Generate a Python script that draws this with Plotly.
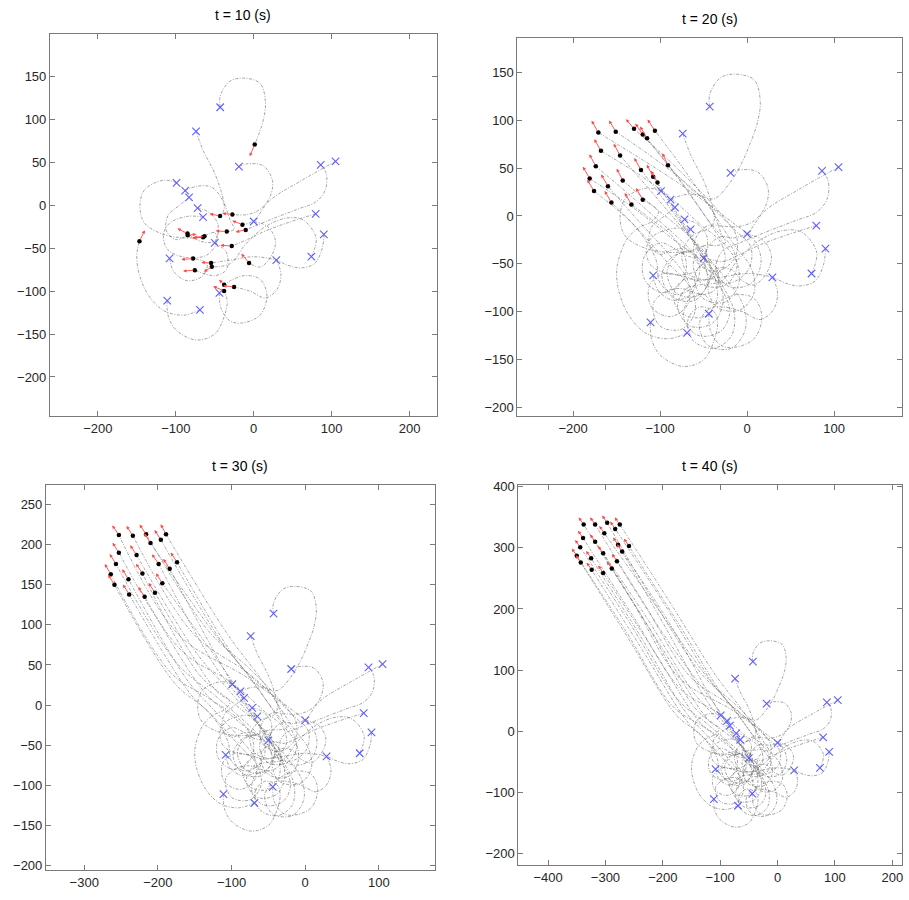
import plotly.graph_objects as go

# ---------------- data ----------------
TIMES = [10, 20, 30, 40]

START_X = [-43, -74, -19, 86, 105, -99, -88, -83, -72, -65, 0, 79.5, 90, -50, 74, 29, -108, -44, -111, -69]
START_Y = [114, 86, 45, 47, 51, 26, 17, 9, -3.5, -14, -19, -10, -34, -44, -60, -64, -62, -102, -111, -122]

# trajectory waypoints from the start up to (and including) the t = 10 s position
PATH_TO_10 = [
    [(-43, 114), (-43, 127), (-31, 144), (-14, 148), (8, 142), (15, 121), (12, 98), (1.3, 70.7)],
    [(-74, 86), (-65, 64), (-50, 37), (-40, 10), (-38, -5), (-43.2, -12.7)],
    [(-19, 45), (-9, 48), (12, 46), (24, 29), (21, 10), (8, -5), (-9, -11), (-27.4, -10.8)],
    [(86, 47), (93, 37), (92, 18), (80, 4), (55, -5), (21, -17), (-10.3, -28.8)],
    [(105, 51), (60, 28), (20, 5), (0, -18), (-14.5, -22.7)],
    [(-99, 26), (-116, 29), (-140, 18), (-146, -1.5), (-140, -21), (-116, -34), (-90, -38), (-65, -37.3)],
    [(-88, 17), (-73, 22), (-54, 21), (-40, 6), (-30, -18), (-25, -28), (-34.6, -30.7)],
    [(-83, 9), (-95, 0), (-110, -12), (-112, -30), (-100, -40), (-84.6, -34.9)],
    [(-72, -3.5), (-58, -8), (-46, -22), (-50, -42), (-68, -42), (-85, -33)],
    [(-65, -14), (-85, -13), (-108, -21), (-116, -35), (-110, -52), (-86, -61), (-60, -58), (-47, -42), (-50, -32), (-63.2, -36.1)],
    [(0, -19), (18, -25), (28, -42), (22, -60), (8, -72), (-6, -67.2)],
    [(79.5, -10), (45, -20), (15, -30), (-8, -40), (-28.2, -47.6)],
    [(90, -34), (88, -50), (78, -68), (60, -73), (44, -70), (29, -64), (0, -60), (-30, -64), (-54.7, -67.2)],
    [(-50, -44), (-35, -55), (-35, -75), (-50, -82), (-75.6, -75.7)],
    [(74, -60), (80, -38), (63, -17), (42, -15), (15, -25), (-10, -45), (-30, -68), (-53.8, -71.8)],
    [(29, -64), (35, -80), (30, -98), (15, -108), (-5, -100), (-25.2, -95.2)],
    [(-108, -62), (-102, -78), (-85, -88), (-65, -82), (-60, -68), (-77.8, -62.2)],
    [(-44, -102), (-42, -120), (-30, -135), (-14, -137), (8, -128), (17, -105), (8, -86), (-12, -82), (-30, -88), (-38, -92.5)],
    [(-111, -111), (-110, -128), (-100, -145), (-74, -157), (-50, -150), (-38, -130), (-34, -112), (-38, -99.8)],
    [(-69, -122), (-90, -128), (-115, -123), (-135, -105), (-147, -80), (-150, -58), (-146.6, -41.9)],
]

# waypoints between the t = 10 s and t = 20 s positions
PATH_10_TO_20 = [
    [(-8, 52), (-22, 32), (-38, 18), (-55, 22), (-70, 33)],
    [(-62, -20), (-75, -38), (-68, -60), (-45, -66), (-26, -50), (-30, -28), (-55, -8), (-100, 28)],
    [(-45, -10), (-60, -25), (-58, -48), (-36, -58), (-15, -45), (-12, -22), (-30, 2), (-75, 45)],
    [(-28, -36), (-36, -56), (-20, -74), (5, -70), (16, -48), (8, -25), (-15, -8), (-80, 35)],
    [(-32, -22), (-48, -38), (-44, -62), (-20, -70), (2, -55), (4, -32), (-15, -14), (-75, 38)],
    [(-85, -42), (-98, -62), (-85, -85), (-60, -88), (-45, -68), (-55, -45), (-80, -28), (-130, 8)],
    [(-52, -32), (-62, -52), (-50, -72), (-25, -72), (-12, -55), (-18, -32), (-38, -12), (-80, 40)],
    [(-70, -35), (-55, -50), (-60, -72), (-82, -82), (-100, -70), (-105, -45), (-125, -15)],
    [(-100, -28), (-118, -42), (-118, -66), (-98, -80), (-76, -70), (-70, -48), (-85, -22), (-108, -5)],
    [(-80, -40), (-92, -58), (-82, -80), (-58, -84), (-42, -65), (-46, -42), (-68, -20), (-105, 8)],
    [(-18, -56), (-35, -55), (-45, -72), (-35, -95), (-8, -98), (8, -80), (5, -55), (-15, -30), (-62, 35)],
    [(-46, -46), (-60, -62), (-52, -85), (-26, -90), (-10, -72), (-12, -48), (-30, -25), (-75, 35)],
    [(-72, -66), (-85, -82), (-75, -102), (-50, -105), (-35, -88), (-38, -62), (-55, -38), (-80, 0)],
    [(-92, -78), (-108, -92), (-100, -115), (-75, -118), (-60, -100), (-65, -75), (-90, -50), (-135, -5)],
    [(-70, -76), (-80, -95), (-65, -115), (-40, -112), (-28, -92), (-32, -68), (-50, -42), (-75, -5)],
    [(-42, -96), (-55, -112), (-45, -135), (-18, -138), (-2, -118), (-5, -92), (-25, -65), (-60, -28), (-105, 20)],
    [(-95, -60), (-112, -72), (-110, -95), (-88, -105), (-68, -92), (-68, -68), (-88, -42), (-125, -5)],
    [(-50, -82), (-68, -88), (-72, -110), (-55, -125), (-30, -120), (-20, -100), (-30, -75), (-60, -40), (-120, 10)],
    [(-55, -95), (-68, -108), (-62, -130), (-38, -138), (-18, -125), (-15, -100), (-30, -70), (-55, -35), (-90, 10)],
    [(-138, -24), (-124, -12), (-110, -6), (-102, 4)],
]

# positions at t = 20, 30, 40 s
POS20_X = [-91, -168, -130, -171, -151, -181, -115, -156, -133, -143, -106, -120, -108, -176, -103, -146, -160, -174, -122, -120]
POS20_Y = [53, 68, 91, 87, 88, 39, 81, 14, 12, 37, 89, 85, 41, 26, 35, 63, 31, 52, 48, 17]
POS30_X = [-174, -253, -216, -253, -234, -264, -196, -239, -218, -221, -189, -210, -184, -259, -194, -229, -240, -257, -199, -204]
POS30_Y = [178, 190, 213, 212, 211, 163, 206, 138, 135, 164, 213, 202, 170, 150, 152, 187, 157, 176, 176, 140]
POS40_X = [-259, -339, -297, -338, -318, -350, -283, -324, -304, -304, -275, -302, -271, -343, -280, -318, -325, -344, -278, -289]
POS40_Y = [303, 316, 341, 338, 338, 287, 331, 264, 259, 291, 338, 324, 294, 276, 278, 310, 283, 301, 305, 266]

# velocity (arrow) vectors at t = 10, 20, 30, 40 s
VEL10_X = [-6.4, -13.2, -12.8, -12.8, -12.8, -14, -14.1, 11, -12.8, -14, -9.8, -14.5, -12.4, -15, -10, -14, -15, -6.4, -14, 6.8]
VEL10_Y = [-13.8, 2.7, 1.2, -2.3, 4.6, -1, 0.8, 1, 5.8, -1.5, 10.8, 1, 0.4, -1, -5.8, 1.5, -1, 5.8, 5.4, 12.7]
VEL20_X = [-6.5, -7.7, -9.2, -7.7, -7.7, -7.7, -8, -7.7, -7.7, -6.9, -8.4, -8.4, -7.3, -7.7, -7.3, -7.3, -7.7, -7.3, -7.7, -7.7]
VEL20_Y = [12.4, 12.1, 10.0, 12.4, 11.7, 12.4, 12.4, 12.1, 12.1, 12.4, 11.7, 11.4, 12.4, 11.7, 12.1, 12.4, 12.4, 12.4, 12.4, 12.1]
VEL30_X = [-8.6, -8.5, -8.8, -9, -8.6, -8.1, -8.5, -8.4, -8.5, -8.6, -7.2, -8.6, -8.6, -8.4, -8.5, -8.6, -8.5, -8.5, -9, -8.5]
VEL30_Y = [12.2, 12.3, 12.0, 12, 12.3, 13.0, 12.3, 12.4, 12.3, 12.2, 12.4, 12.2, 12.2, 12.4, 12.3, 12.2, 12.3, 12.3, 12, 12.3]
VEL40_X = [-8.7, -8.7, -8.7, -8.7, -8.7, -8.7, -8.7, -8.7, -8.7, -8.7, -8.7, -8.7, -8.7, -8.7, -8.7, -8.7, -8.7, -8.7, -8.7, -8.7]
VEL40_Y = [11.9, 11.9, 11.9, 11.9, 11.9, 11.9, 11.9, 11.9, 11.9, 11.9, 11.9, 11.9, 11.9, 11.9, 11.9, 11.9, 11.9, 11.9, 11.9, 11.9]

X_RANGES = [[-261.5, 234.6], [-264, 178], [-352, 175.6], [-451.7, 217]]
Y_RANGES = [[-245.8, 199.6], [-209, 186], [-205.8, 274.7], [-219.4, 403.3]]
X_TICKS = [[-200, -100, 0, 100, 200], [-200, -100, 0, 100], [-300, -200, -100, 0, 100], [-400, -300, -200, -100, 0, 100, 200]]
Y_TICKS = [[-200, -150, -100, -50, 0, 50, 100, 150], [-200, -150, -100, -50, 0, 50, 100, 150],
           [-200, -150, -100, -50, 0, 50, 100, 150, 200, 250], [-200, -100, 0, 100, 200, 300, 400]]

# ---------------- layout geometry (pixels in a 909 x 900 page) ----------------
W, H = 909, 900
PANEL_PX = [(50, 437, 29, 415), (518, 903, 33, 415), (46, 435, 484, 873), (519, 903, 484, 868)]

POS_X = [None, POS20_X, POS30_X, POS40_X]
POS_Y = [None, POS20_Y, POS30_Y, POS40_Y]
VEL_X = [VEL10_X, VEL20_X, VEL30_X, VEL40_X]
VEL_Y = [VEL10_Y, VEL20_Y, VEL30_Y, VEL40_Y]

LINE_COLOR = "rgba(95,95,95,0.75)"
BLUE = "rgb(95,95,255)"
FONT = "Liberation Sans, Arial, sans-serif"

fig = go.Figure()
layout = {}
annotations = []
marker_traces = []

for p in range(4):
    k = p + 1
    xa = "x" if k == 1 else f"x{k}"
    ya = "y" if k == 1 else f"y{k}"
    n_agents = len(START_X)

    for a in range(n_agents):
        pts = list(PATH_TO_10[a])
        if p >= 1:
            pts += PATH_10_TO_20[a] + [(POS20_X[a], POS20_Y[a])]
        if p >= 2:
            pts += [(POS30_X[a], POS30_Y[a])]
        if p >= 3:
            pts += [(POS40_X[a], POS40_Y[a])]
        fig.add_trace(go.Scatter(
            x=[q[0] for q in pts], y=[q[1] for q in pts], mode="lines",
            line=dict(color=LINE_COLOR, width=0.75, dash="3px,1.5px,1px,1.5px", shape="spline", smoothing=1.0),
            xaxis=xa, yaxis=ya, showlegend=False, hoverinfo="skip"))

    # current positions
    if p == 0:
        cx = [PATH_TO_10[a][-1][0] for a in range(n_agents)]
        cy = [PATH_TO_10[a][-1][1] for a in range(n_agents)]
    else:
        cx, cy = POS_X[p], POS_Y[p]

    # start markers (one blue cross per agent)
    marker_traces.append(go.Scatter(
        x=START_X, y=START_Y, mode="markers",
        marker=dict(symbol="x-thin-open", size=7.5, color=[BLUE] * n_agents,
                    line=dict(width=1.1, color=[BLUE] * n_agents)),
        xaxis=xa, yaxis=ya, showlegend=False, hoverinfo="skip"))
    marker_traces.append(go.Scatter(
        x=cx, y=cy, mode="markers", marker=dict(size=4.5, color="black", symbol="circle"),
        xaxis=xa, yaxis=ya, showlegend=False, hoverinfo="skip"))

    for a in range(n_agents):
        annotations.append(dict(
            x=cx[a] + VEL_X[p][a], y=cy[a] + VEL_Y[p][a], ax=cx[a], ay=cy[a],
            xref=xa, yref=ya, axref=xa, ayref=ya, text="", showarrow=True,
            arrowhead=2, arrowsize=0.75, arrowwidth=0.9, arrowcolor="rgb(255,70,70)",
            standoff=0, startstandoff=0))

    x0, x1, y0, y1 = PANEL_PX[p]
    axis_common = dict(showline=True, linecolor="#7a7a7a", linewidth=1, mirror="ticks",
                       ticks="inside", ticklen=5, tickcolor="#7a7a7a", showgrid=False, zeroline=False,
                       tickfont=dict(family=FONT, size=13, color="#262626"))
    layout["xaxis" if k == 1 else f"xaxis{k}"] = dict(
        domain=[x0 / W, x1 / W], range=X_RANGES[p], tickvals=X_TICKS[p],
        anchor=ya, **axis_common)
    layout["yaxis" if k == 1 else f"yaxis{k}"] = dict(
        domain=[1 - y1 / H, 1 - y0 / H], range=Y_RANGES[p], tickvals=Y_TICKS[p],
        anchor=xa, **axis_common)

    annotations.append(dict(
        text=f"t = {TIMES[p]} (s)", x=(x0 + x1) / 2 / W, y=1 - (y0 - 9) / H,
        xref="paper", yref="paper", xanchor="center", yanchor="bottom", showarrow=False,
        font=dict(family=FONT, size=14, color="black")))

for tr in marker_traces:
    fig.add_trace(tr)

fig.update_layout(
    width=W, height=H, margin=dict(l=0, r=0, t=0, b=0),
    paper_bgcolor="white", plot_bgcolor="white",
    annotations=annotations, **layout)

fig.write_html("out.html")
